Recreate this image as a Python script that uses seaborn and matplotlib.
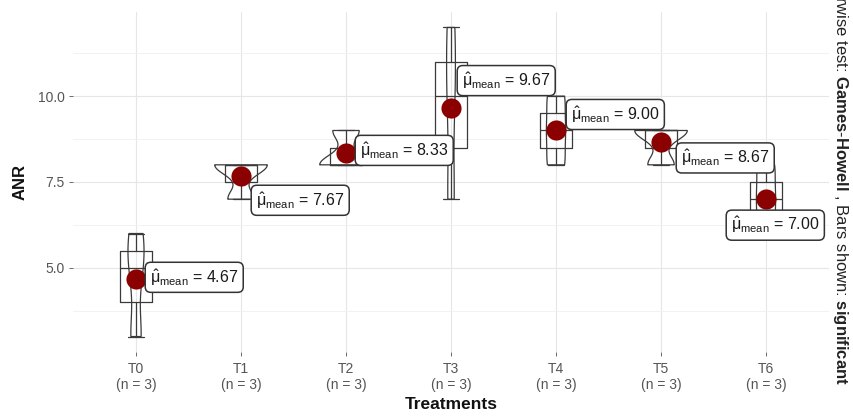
import numpy as np
import pandas as pd
import matplotlib
matplotlib.use("Agg")
import matplotlib.pyplot as plt
import seaborn as sns
from matplotlib.ticker import MultipleLocator, FormatStrFormatter

# ---------------- data ----------------
groups = ["T0", "T1", "T2", "T3", "T4", "T5", "T6"]
anr_T0 = [3, 5, 6]
anr_T1 = [7, 8, 8]
anr_T2 = [8, 8, 9]
anr_T3 = [7, 10, 12]
anr_T4 = [8, 9, 10]
anr_T5 = [8, 9, 9]
anr_T6 = [6, 7, 8]
x_title = "Treatments"
y_title = "ANR"
caption_plain_1 = "Pairwise test: "
caption_bold_1 = "Games"
caption_bold_2 = "Howell"
caption_plain_2 = " , Bars shown: "
caption_bold_3 = "significant"

# ---------------- layout (pixel offsets of mean labels) ----------------
label_dx = [14, 15, 14, 11, 15, 20, -35]
label_dy = [2, -24, 3, 27, 16, -16, -26]

values = [anr_T0, anr_T1, anr_T2, anr_T3, anr_T4, anr_T5, anr_T6]
df = pd.DataFrame({
    "group": np.repeat(groups, [len(v) for v in values]),
    "ANR": np.concatenate(values).astype(float),
})

sns.set_theme(style="white")
plt.rcParams["font.family"] = ["Liberation Sans", "DejaVu Sans"]
plt.rcParams["mathtext.fontset"] = "custom"
plt.rcParams["mathtext.rm"] = "Liberation Sans"
plt.rcParams["mathtext.it"] = "Liberation Sans:italic"
plt.rcParams["mathtext.bf"] = "Liberation Sans:bold"

W, H = 854, 418
fig = plt.figure(figsize=(W / 100, H / 100), dpi=100)
fig.patch.set_facecolor("white")
L, R, T, B = 73, 829, 12, 352
ax = fig.add_axes([L / W, 1 - B / H, (R - L) / W, (B - T) / H])
ax.set_facecolor("white")

line_col = "#3a3a3a"
sns.violinplot(data=df, x="group", y="ANR", order=groups, width=0.5, cut=0,
               bw_method=0.5, density_norm="area", inner=None, fill=False,
               color=line_col, linewidth=0.9, ax=ax, zorder=2)
sns.boxplot(data=df, x="group", y="ANR", order=groups, width=0.3, fill=False,
            color=line_col, linewidth=0.9, showfliers=False, ax=ax, zorder=3)
sns.pointplot(data=df, x="group", y="ANR", order=groups, estimator="mean",
              errorbar=None, linestyle="none", marker="o", markersize=14.5,
              markeredgewidth=0, color="#8b0000", ax=ax, zorder=4)

means = df.groupby("group")["ANR"].mean().reindex(groups)
for i, g in enumerate(groups):
    m = means[g]
    ax.annotate(r"$\hat{\mathrm{\mu}}_{\mathrm{mean}}$" + f" = {m:.2f}",
                xy=(i, m), xytext=(label_dx[i], label_dy[i]),
                textcoords="offset pixels", ha="left", va="center",
                fontsize=11.5, color="#1a1a1a", zorder=6,
                bbox=dict(boxstyle="round,pad=0.3,rounding_size=0.35",
                          fc="white", ec="#333333", lw=1.1))

ax.set_xlim(-0.6, len(groups) - 0.4)
ax.set_ylim(2.55, 12.45)
ax.yaxis.set_major_locator(MultipleLocator(2.5))
ax.yaxis.set_minor_locator(MultipleLocator(1.25))
ax.yaxis.set_major_formatter(FormatStrFormatter("%.1f"))
ax.grid(which="major", axis="both", color="#e6e6e6", lw=0.8)
ax.grid(which="minor", axis="y", color="#f0f0f0", lw=0.6)
ax.set_axisbelow(True)
for s in ax.spines.values():
    s.set_visible(False)

counts = df.groupby("group").size().reindex(groups)
ax.set_xticks(range(len(groups)))
ax.set_xticklabels([f"{g}\n(n = {counts[g]})" for g in groups])
ax.tick_params(axis="both", which="major", length=3, width=0.6, color="#555555",
               labelcolor="#555555", labelsize=10, direction="out",
               bottom=True, left=True)
ax.tick_params(axis="x", pad=4)
ax.tick_params(axis="y", pad=3)
ax.tick_params(which="minor", length=0)

ax.set_xlabel(x_title, fontsize=12.5, fontweight="bold", labelpad=4, color="#111111")
ax.set_ylabel(y_title, fontsize=12, fontweight="bold", labelpad=7, color="#111111")

cap = (caption_plain_1 + r"$\mathbf{" + caption_bold_1 + "}$-$\\mathbf{" + caption_bold_2 +
       "}$" + caption_plain_2 + r"$\mathbf{" + caption_bold_3 + "}$")
fig.text(841 / W, 1 - 385 / H, cap, rotation=-90, ha="center", va="bottom",
         fontsize=12, color="#222222")

fig.savefig("out.png", dpi=100, facecolor="white")
